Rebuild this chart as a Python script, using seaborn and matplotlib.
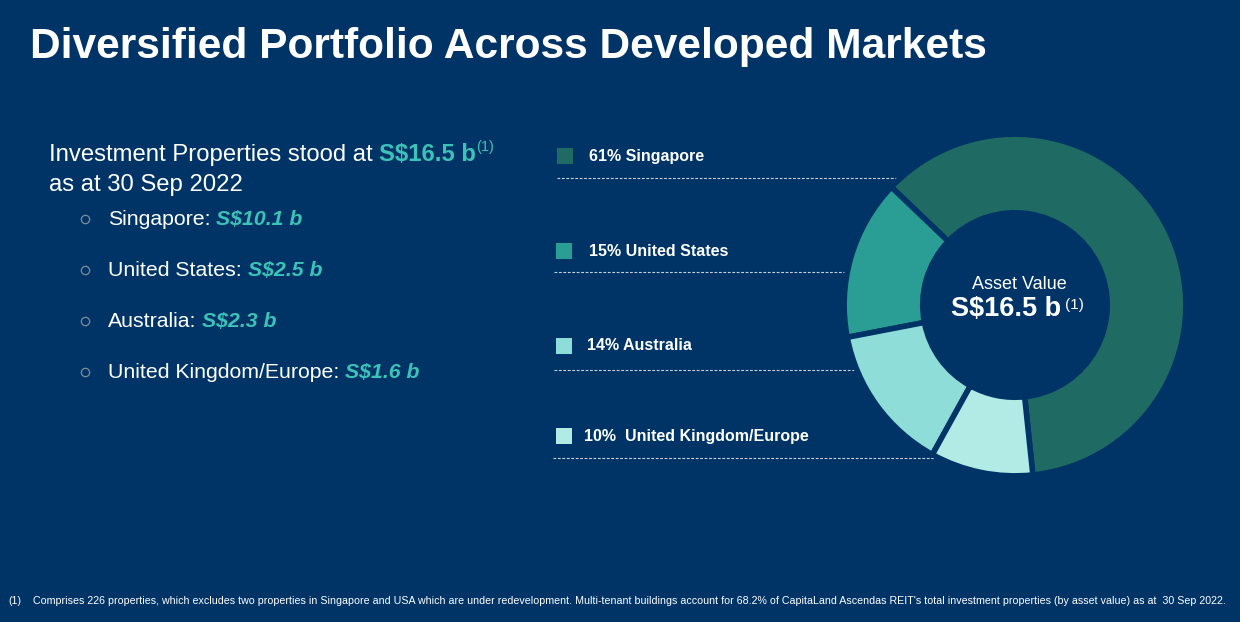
import matplotlib
matplotlib.use("Agg")
import matplotlib.pyplot as plt
import seaborn as sns

# data
regions = ["Singapore", "United States", "Australia", "United Kingdom/Europe"]
values_b = [10.1, 2.5, 2.3, 1.6]
pct = [61, 15, 14, 10]
total_b = 16.5
legend_labels = ["61% Singapore", "15% United States", "14% Australia", "10%  United Kingdom/Europe"]
bullet_labels = ["Singapore:", "United States:", "Australia:", "United Kingdom/Europe:"]
bullet_values = ["S$10.1 b", "S$2.5 b", "S$2.3 b", "S$1.6 b"]

BG = "#003466"
ACCENT = "#3CC2B8"
colors = sns.color_palette(["#1F6B63", "#2A9D94", "#8EDDD9", "#B2EAE6"])

sns.set_style("white")
plt.rcParams["font.family"] = ["Liberation Sans", "DejaVu Sans"]

W, H = 1240, 622
fig = plt.figure(figsize=(W / 100, H / 100), dpi=100, facecolor=BG)

# full-figure axes in pixel coords
ax = fig.add_axes([0, 0, 1, 1])
ax.set_xlim(0, W)
ax.set_ylim(H, 0)
ax.axis("off")
ax.set_facecolor(BG)

renderer = fig.canvas.get_renderer()


def chain(x, y, parts):
    # parts: list of (text, kwargs, gap_px, dy_px)
    for s, kw, gap, dy in parts:
        t = ax.text(x, y + dy, s, va="baseline", ha="left", **kw)
        bb = t.get_window_extent(renderer=renderer)
        x += bb.width + gap


ax.text(30, 58, "Diversified Portfolio Across Developed Markets", color="white",
        fontsize=30.6, fontweight="bold", va="baseline")

chain(49, 161, [("Investment Properties stood at", dict(color="white", fontsize=17.2), 6, 0),
                ("S$16.5 b", dict(color=ACCENT, fontsize=17.2, fontweight="bold"), 1, 0),
                ("(1)", dict(color=ACCENT, fontsize=10.5), 0, -10)])
ax.text(49, 191, "as at 30 Sep 2022", color="white", fontsize=17.2, va="baseline")

for i, (lab, val) in enumerate(zip(bullet_labels, bullet_values)):
    yb = 225 + i * 51
    ax.plot(85, yb - 6, marker="o", ms=6, mfc="none", mec="#7F8C9C", mew=0.9)
    chain(108, yb, [(lab, dict(color="white", fontsize=15.3), 6, 0),
                    (val, dict(color=ACCENT, fontsize=15.3, fontweight="bold", style="italic"), 0, 0)])

# legend entries and dashed rules
sq_y = [156, 251, 346, 436]
sq_x = [557, 556, 556, 556]
txt_x = [589, 589, 587, 584]
rule_y = [178, 272, 370, 458]
rule_x0 = [557, 554, 554, 553]
rule_x1 = [897, 846, 857, 940]
for i in range(4):
    ax.add_patch(plt.Rectangle((sq_x[i], sq_y[i] - 8), 16, 16, color=colors[i], lw=0))
    ax.text(txt_x[i], sq_y[i] + 4.5, legend_labels[i], color="white", fontsize=11.5,
            fontweight="bold", va="baseline")
    ax.plot([rule_x0[i], rule_x1[i]], [rule_y[i], rule_y[i]], color="#C8D0DC",
            lw=0.8, ls=(0, (2.5, 1.5)), zorder=1)

# donut
cx, cy, r = 1015, 305, 170
dax = fig.add_axes([(cx - r) / W, (H - cy - r) / H, 2 * r / W, 2 * r / H])
dax.pie(values_b, colors=colors, startangle=-84, counterclock=True, radius=1,
        wedgeprops=dict(width=0.46, edgecolor=BG, linewidth=4))
dax.set_xlim(-0.995, 0.995)
dax.set_ylim(-0.995, 0.995)
dax.set_aspect("equal")
dax.axis("off")
dax.patch.set_alpha(0)

ax.text(1019, 289, "Asset Value", color="white", fontsize=13, ha="center", va="baseline")
ax.text(1006, 316, "S$%.1f b" % total_b, color="white", fontsize=19.5, fontweight="bold",
        ha="center", va="baseline")
ax.text(1065, 309, "(1)", color="white", fontsize=11, va="baseline")

# footnote
ax.text(8, 604, "(1)", color="white", fontsize=7.65, va="baseline")
ax.text(33, 604, "Comprises 226 properties, which excludes two properties in Singapore and USA which are "
        "under redevelopment. Multi-tenant buildings account for 68.2% of CapitaLand Ascendas REIT's "
        "total investment properties (by asset value) as at  30 Sep 2022.",
        color="white", fontsize=7.65, va="baseline")

fig.savefig("out.png", dpi=100, facecolor=BG)
